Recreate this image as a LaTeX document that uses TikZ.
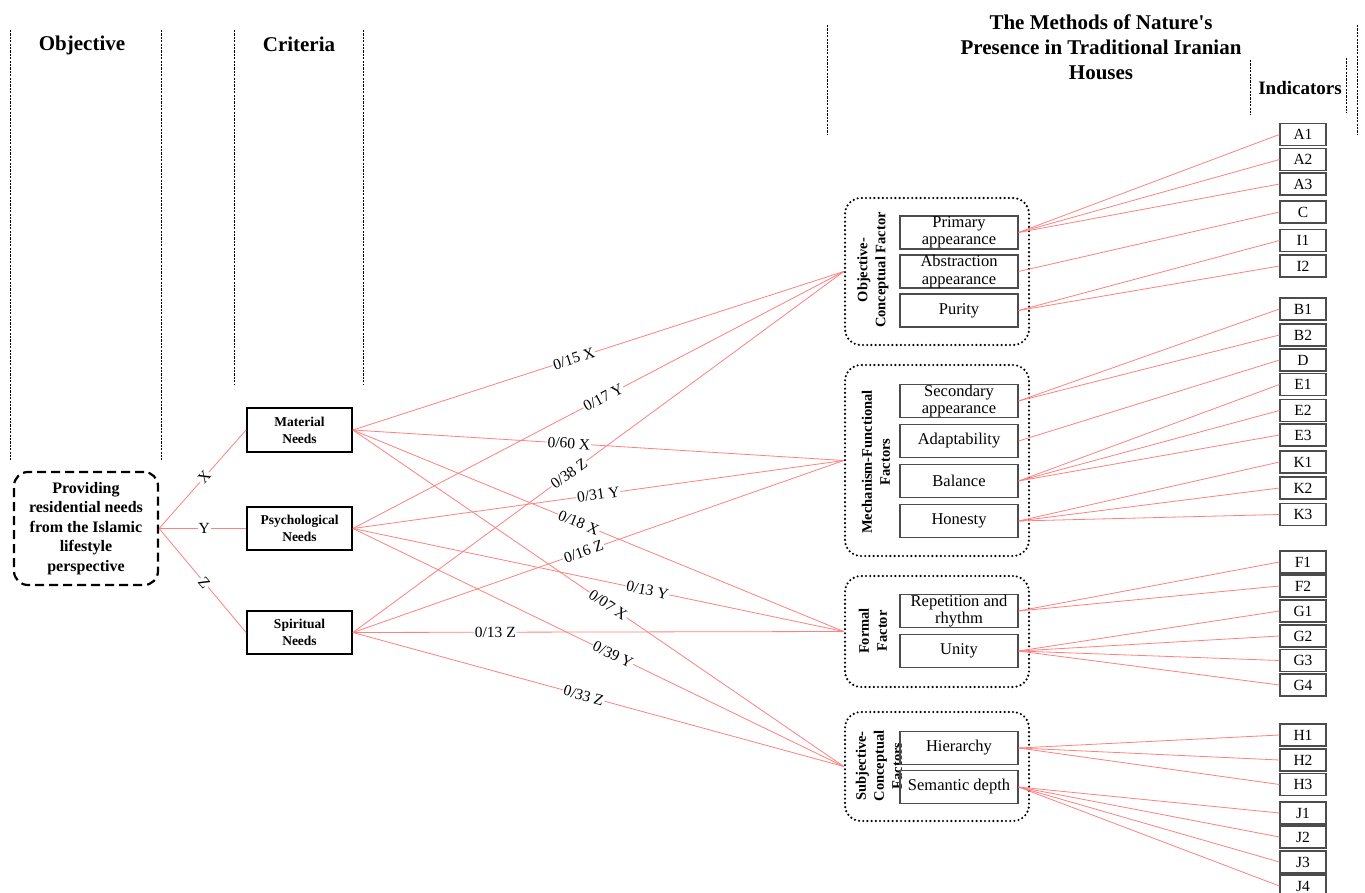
\documentclass[tikz,border=0pt]{standalone}
\usepackage{fontspec}
\setmainfont{Liberation Serif}
\usetikzlibrary{positioning}

\newcommand{\fsz}[2]{\fontsize{#1}{#2}\selectfont}

\tikzset{
  link/.style={draw=red!50,line width=0.8pt},
  weight/.style={fill=white,inner sep=1pt,sloped,font=\fsz{15.5}{17}},
  colline/.style={line width=0.9pt,dash pattern=on 2.2pt off 1.2pt},
  heading/.style={font=\bfseries\fsz{21}{25},align=center},
  goalbox/.style={draw,line width=2.2pt,dash pattern=on 9pt off 5pt,rounded corners=14pt,
    minimum width=144pt,minimum height=113pt,inner sep=0pt,align=center,font=\bfseries\fsz{16}{19.5}},
  needbox/.style={draw,line width=1.8pt,minimum width=105pt,minimum height=43.5pt,inner sep=0pt,
    align=center,font=\bfseries\fsz{13.5}{17}},
  groupbox/.style={draw,line width=2.4pt,dash pattern=on 0pt off 4.2pt,line cap=round,
    rounded corners=16pt,minimum width=184pt,inner sep=0pt},
  grouplabel/.style={rotate=90,align=center,inner sep=0pt,font=\bfseries\fsz{14.5}{18}},
  itembox/.style={draw=black!70,line width=1.1pt,minimum width=118pt,minimum height=33pt,
    inner sep=0pt,align=center,font=\fsz{16.5}{17.5}},
  indbox/.style={draw=black!70,line width=1.1pt,minimum width=46pt,minimum height=22pt,
    inner sep=0pt,font=\fsz{15.5}{17}}
}

\begin{document}
\begin{tikzpicture}[x=1pt,y=-1pt]
\useasboundingbox (0,0) rectangle (1365,893);

% column headers
\draw[colline] (10,30) -- (10,460);
\draw[colline] (161,30) -- (161,460);
\draw[colline] (234,30) -- (234,385);
\draw[colline] (363,30) -- (363,385);
\draw[colline] (827,25) -- (827,135);
\draw[colline] (1250,60) -- (1250,115);
\draw[colline] (1346,58) -- (1346,113);
\draw[colline] (1357,25) -- (1357,135);
\node[heading] (hobj) at (82,45) {Objective};
\node[heading] (hcrit) at (299,44) {Criteria};
\node[heading] (hmeth) at (1101,47) {The Methods of Nature\textquotesingle s\\Presence in Traditional Iranian\\Houses};
\node[font=\bfseries\fsz{19}{22}] (hind) at (1300,88) {Indicators};

% objective and criteria
\node[goalbox] (goal) at (86,528.5) {Providing\\residential needs\\from the Islamic\\lifestyle\\perspective};
\node[needbox] (mat) at (299.5,430) {Material\\Needs};
\node[needbox] (psy) at (299.5,528.5) {Psychological\\Needs};
\node[needbox] (spi) at (299.5,632.5) {Spiritual\\Needs};

% factor groups
\node[groupbox,minimum height=147pt] (ocf) at (937,271.5) {};
\node[groupbox,minimum height=191pt] (mff) at (937,460.5) {};
\node[groupbox,minimum height=111pt] (ff) at (937,631.5) {};
\node[groupbox,minimum height=109pt] (scf) at (937,766.5) {};
\node[grouplabel] (ocflbl) at (873,270) {Objective-\\Conceptual Factor};
\node[grouplabel] (mfflbl) at (876,462) {Mechanism-Functional\\Factors};
\node[grouplabel] (fflbl) at (873,631) {Formal\\Factor};
\node[grouplabel] (scflbl) at (879,766) {Subjective-\\Conceptual\\Factors};

\node[itembox] (pa) at (959,232.5) {Primary\\appearance};
\node[itembox] (aa) at (959,271.5) {Abstraction\\appearance};
\node[itembox] (pur) at (959,310.5) {Purity};
\node[itembox] (sa) at (959,401) {Secondary\\appearance};
\node[itembox] (ada) at (959,441) {Adaptability};
\node[itembox] (bal) at (959,481) {Balance};
\node[itembox] (hon) at (959,521) {Honesty};
\node[itembox] (rr) at (959,611) {Repetition and\\rhythm};
\node[itembox] (uni) at (959,651) {Unity};
\node[itembox] (hie) at (959,748) {Hierarchy};
\node[itembox] (sem) at (959,787) {Semantic depth};

% indicators
\node[indbox] (a1) at (1303,134.5) {A1};
\node[indbox] (a2) at (1303,159.5) {A2};
\node[indbox] (a3) at (1303,184) {A3};
\node[indbox] (c) at (1303,212) {C};
\node[indbox] (i1) at (1303,240.5) {I1};
\node[indbox] (i2) at (1303,266) {I2};
\node[indbox] (b1) at (1303,309) {B1};
\node[indbox] (b2) at (1303,335) {B2};
\node[indbox] (d) at (1303,360) {D};
\node[indbox] (e1) at (1303,384.5) {E1};
\node[indbox] (e2) at (1303,410.5) {E2};
\node[indbox] (e3) at (1303,435) {E3};
\node[indbox] (k1) at (1303,462) {K1};
\node[indbox] (k2) at (1303,488) {K2};
\node[indbox] (k3) at (1303,514.5) {K3};
\node[indbox] (f1) at (1303,562) {F1};
\node[indbox] (f2) at (1303,586) {F2};
\node[indbox] (g1) at (1303,611) {G1};
\node[indbox] (g2) at (1303,636) {G2};
\node[indbox] (g3) at (1303,660.5) {G3};
\node[indbox] (g4) at (1303,685) {G4};
\node[indbox] (h1) at (1303,735) {H1};
\node[indbox] (h2) at (1303,760) {H2};
\node[indbox] (h3) at (1303,784.5) {H3};
\node[indbox] (j1) at (1303,813) {J1};
\node[indbox] (j2) at (1303,837) {J2};
\node[indbox] (j3) at (1303,862) {J3};
\node[indbox] (j4) at (1303,886) {J4};

% objective to criteria
\draw[link] (goal.east) -- node[weight,pos=0.52] {X} (mat.west);
\draw[link] (goal.east) -- node[weight,pos=0.52] {Y} (psy.west);
\draw[link] (goal.east) -- node[weight,pos=0.52] {Z} (spi.west);

% criteria to factors
\draw[link] (mat.east) -- (ocf.west);
\draw[link] (mat.east) -- (mff.west);
\draw[link] (mat.east) -- (ff.west);
\draw[link] (mat.east) -- (scf.west);
\draw[link] (psy.east) -- (ocf.west);
\draw[link] (psy.east) -- (mff.west);
\draw[link] (psy.east) -- (ff.west);
\draw[link] (psy.east) -- (scf.west);
\draw[link] (spi.east) -- (ocf.west);
\draw[link] (spi.east) -- (mff.west);
\draw[link] (spi.east) -- (ff.west);
\draw[link] (spi.east) -- (scf.west);
\path (mat.east) -- node[weight,pos=0.45] {0/15 X} (ocf.west);
\path (mat.east) -- node[weight,pos=0.44] {0/60 X} (mff.west);
\path (mat.east) -- node[weight,pos=0.46] {0/18 X} (ff.west);
\path (mat.east) -- node[weight,pos=0.52] {0/07 X} (scf.west);
\path (psy.east) -- node[weight,pos=0.51] {0/17 Y} (ocf.west);
\path (psy.east) -- node[weight,pos=0.50] {0/31 Y} (mff.west);
\path (psy.east) -- node[weight,pos=0.60] {0/13 Y} (ff.west);
\path (psy.east) -- node[weight,pos=0.53] {0/39 Y} (scf.west);
\path (spi.east) -- node[weight,pos=0.44] {0/38 Z} (ocf.west);
\path (spi.east) -- node[weight,pos=0.47] {0/16 Z} (mff.west);
\path (spi.east) -- node[weight,pos=0.29] {0/13 Z} (ff.west);
\path (spi.east) -- node[weight,pos=0.47] {0/33 Z} (scf.west);

% factors to indicators
\draw[link] (pa.east) -- (a1.west);
\draw[link] (pa.east) -- (a2.west);
\draw[link] (pa.east) -- (a3.west);
\draw[link] (aa.east) -- (c.west);
\draw[link] (pur.east) -- (i1.west);
\draw[link] (pur.east) -- (i2.west);
\draw[link] (sa.east) -- (b1.west);
\draw[link] (sa.east) -- (b2.west);
\draw[link] (ada.east) -- (d.west);
\draw[link] (bal.east) -- (e1.west);
\draw[link] (bal.east) -- (e2.west);
\draw[link] (bal.east) -- (e3.west);
\draw[link] (hon.east) -- (k1.west);
\draw[link] (hon.east) -- (k2.west);
\draw[link] (hon.east) -- (k3.west);
\draw[link] (rr.east) -- (f1.west);
\draw[link] (rr.east) -- (f2.west);
\draw[link] (uni.east) -- (g1.west);
\draw[link] (uni.east) -- (g2.west);
\draw[link] (uni.east) -- (g3.west);
\draw[link] (uni.east) -- (g4.west);
\draw[link] (hie.east) -- (h1.west);
\draw[link] (hie.east) -- (h2.west);
\draw[link] (hie.east) -- (h3.west);
\draw[link] (sem.east) -- (j1.west);
\draw[link] (sem.east) -- (j2.west);
\draw[link] (sem.east) -- (j3.west);
\draw[link] (sem.east) -- (j4.west);

\end{tikzpicture}
\end{document}
